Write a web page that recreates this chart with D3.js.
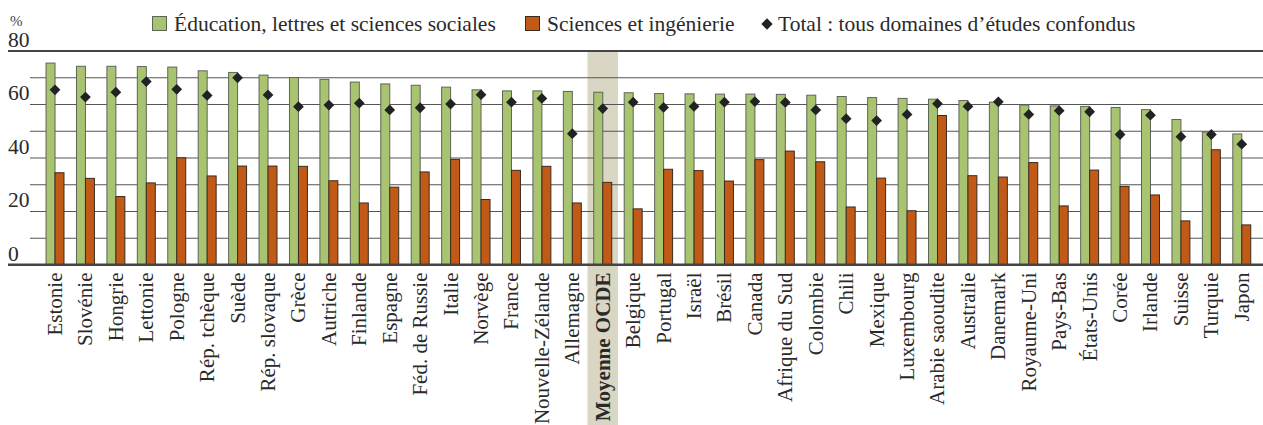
<!DOCTYPE html>
<html>
<head>
<meta charset="utf-8">
<script src="https://cdn.jsdelivr.net/npm/d3@7"></script>
<style>
  body { margin: 0; background: #fff; }
  svg { display: block; font-family: "Liberation Serif", "Times New Roman", serif; }
</style>
</head>
<body>
<div id="wrapper"></div>
<script>
const countries = ["Estonie", "Slovénie", "Hongrie", "Lettonie", "Pologne", "Rép. tchèque", "Suède", "Rép. slovaque",
  "Grèce", "Autriche", "Finlande", "Espagne", "Féd. de Russie", "Italie", "Norvège", "France", "Nouvelle-Zélande",
  "Allemagne", "Moyenne OCDE", "Belgique", "Portugal", "Israël", "Brésil", "Canada", "Afrique du Sud", "Colombie",
  "Chili", "Mexique", "Luxembourg", "Arabie saoudite", "Australie", "Danemark", "Royaume-Uni", "Pays-Bas",
  "États-Unis", "Corée", "Irlande", "Suisse", "Turquie", "Japon"];

const education = [75.3, 74.1, 74.1, 74.0, 73.8, 72.4, 71.8, 70.8, 69.9, 69.2, 68.2, 67.5, 67.0, 66.3, 65.3, 64.9, 64.9,
  64.7, 64.4, 64.2, 63.9, 63.8, 63.7, 63.7, 63.6, 63.3, 62.8, 62.4, 62.1, 61.8, 61.3, 60.7, 59.6, 59.3, 59.1, 58.7,
  57.9, 54.2, 49.5, 48.8];

const sciences = [34.3, 32.2, 25.4, 30.5, 39.9, 33.1, 36.8, 36.8, 36.7, 31.3, 23.0, 28.9, 34.6, 39.3, 24.3, 35.2, 36.7,
  23.0, 30.7, 20.8, 35.6, 35.1, 31.2, 39.2, 42.4, 38.4, 21.5, 32.3, 20.1, 55.7, 33.2, 32.7, 38.1, 21.9, 35.3, 29.2,
  26.0, 16.3, 42.9, 14.8];

const total = [65.3, 62.6, 64.4, 68.4, 65.5, 63.2, 69.8, 63.4, 59.0, 59.6, 60.3, 57.8, 58.6, 60.0, 63.5, 60.7, 62.1,
  48.9, 58.3, 60.7, 58.7, 59.1, 60.7, 60.9, 60.6, 57.8, 54.5, 53.8, 56.1, 60.1, 59.1, 60.8, 56.1, 57.5, 57.1, 48.6,
  55.8, 47.8, 48.6, 45.0];

const yTicks = [0, 10, 20, 30, 40, 50, 60, 70, 80];
const yLabels = [0, 20, 40, 60, 80];
const highlight = "Moyenne OCDE";

const legendItems = [
  { label: "Éducation, lettres et sciences sociales", type: "edu" },
  { label: "Sciences et ingénierie", type: "sci" },
  { label: "Total : tous domaines d’études confondus", type: "tot" }
];

const colors = {
  edu: "#a9c470", eduStroke: "#5f6458",
  sci: "#c25a17", sciStroke: "#3b2a20",
  tot: "#222222",
  band: "#d9d7c3",
  grid: "#555555",
  text: "#2a2a2a"
};

const width = 1263;
const height = 425;
const fontSize = "21.5px";
const labelSize = "21px";
const dataset = countries.map((c, i) => ({ country: c, edu: education[i], sci: sciences[i], tot: total[i] }));

const svg = d3.select("#wrapper").append("svg")
  .attr("width", width)
  .attr("height", height);

const xScale = d3.scaleBand()
  .domain(countries)
  .range([39.8, 1257])
  .paddingInner(0.41)
  .paddingOuter(0.205);

const yScale = d3.scaleLinear()
  .domain([0, 80])
  .range([264.5, 50.5]);

const half = xScale.bandwidth() / 2;
const center = d => xScale(d) + half;

// highlighted OECD average band
svg.append("rect")
  .attr("x", center(highlight) - xScale.step() / 2)
  .attr("y", yScale(80))
  .attr("width", xScale.step())
  .attr("height", height - yScale(80))
  .attr("fill", colors.band);

// grid lines via axis
const yAxis = svg.append("g")
  .attr("transform", "translate(30,0)")
  .call(d3.axisRight(yScale).tickValues(yTicks).tickSize(width - 30).tickFormat(""));
yAxis.select(".domain").remove();
yAxis.selectAll(".tick line")
  .attr("stroke", colors.grid)
  .attr("stroke-width", 1.2)
  .filter(d => d === 0 || d === 80)
  .attr("x1", -22)
  .attr("stroke", "#444")
  .attr("stroke-width", 1.8);

// y labels above their lines
svg.selectAll(".ylab")
  .data(yLabels)
  .join("text")
  .attr("class", "ylab")
  .attr("x", 8)
  .attr("y", d => yScale(d) - 4)
  .attr("fill", colors.text)
  .style("font-size", fontSize)
  .text(d => d);

svg.append("text")
  .attr("x", 10)
  .attr("y", 26)
  .attr("fill", "#444")
  .style("font-size", "15px")
  .text("%");

// bars
svg.selectAll(".edu")
  .data(dataset)
  .join("rect")
  .attr("class", "edu")
  .attr("x", d => xScale(d.country))
  .attr("y", d => yScale(d.edu))
  .attr("width", half)
  .attr("height", d => yScale(0) - yScale(d.edu))
  .attr("fill", colors.edu)
  .attr("stroke", colors.eduStroke)
  .attr("stroke-width", 1);

svg.selectAll(".sci")
  .data(dataset)
  .join("rect")
  .attr("class", "sci")
  .attr("x", d => xScale(d.country) + half)
  .attr("y", d => yScale(d.sci))
  .attr("width", half)
  .attr("height", d => yScale(0) - yScale(d.sci))
  .attr("fill", colors.sci)
  .attr("stroke", colors.sciStroke)
  .attr("stroke-width", 1);

// total markers
const diamond = d3.symbol().type(d3.symbolSquare).size(58);
svg.selectAll(".tot")
  .data(dataset)
  .join("path")
  .attr("class", "tot")
  .attr("d", diamond)
  .attr("transform", d => `translate(${center(d.country)},${yScale(d.tot)}) rotate(45)`)
  .attr("fill", colors.tot);

// x axis labels
const xAxis = svg.append("g")
  .attr("transform", `translate(0,${yScale(0)})`)
  .call(d3.axisBottom(xScale).tickSize(0));
xAxis.select(".domain").remove();
xAxis.selectAll(".tick text")
  .attr("transform", "rotate(-90)")
  .attr("x", -8)
  .attr("y", 0)
  .attr("dy", "0.33em")
  .attr("text-anchor", "end")
  .attr("fill", colors.text)
  .style("font-size", labelSize)
  .style("font-family", "'Liberation Serif', serif")
  .style("font-weight", d => d === highlight ? "bold" : "normal");

// baseline
svg.append("line")
  .attr("x1", 8)
  .attr("x2", width)
  .attr("y1", yScale(0))
  .attr("y2", yScale(0))
  .attr("stroke", "#444")
  .attr("stroke-width", 1.8);

// legend
const legendX = [152, 525, 767];
const legend = svg.selectAll(".legend")
  .data(legendItems)
  .join("g")
  .attr("class", "legend")
  .attr("transform", (d, i) => `translate(${legendX[i]},0)`);

legend.filter(d => d.type !== "tot")
  .append("rect")
  .attr("x", 0.5)
  .attr("y", 16.5)
  .attr("width", 14)
  .attr("height", 14)
  .attr("fill", d => colors[d.type])
  .attr("stroke", d => d.type === "edu" ? colors.eduStroke : colors.sciStroke);

legend.filter(d => d.type === "tot")
  .append("path")
  .attr("d", d3.symbol().type(d3.symbolSquare).size(64))
  .attr("transform", "translate(0,24) rotate(45)")
  .attr("fill", colors.tot);

legend.append("text")
  .attr("x", d => d.type === "tot" ? 11 : 22)
  .attr("y", 31)
  .attr("fill", colors.text)
  .style("font-size", fontSize)
  .text(d => d.label);
</script>
</body>
</html>
